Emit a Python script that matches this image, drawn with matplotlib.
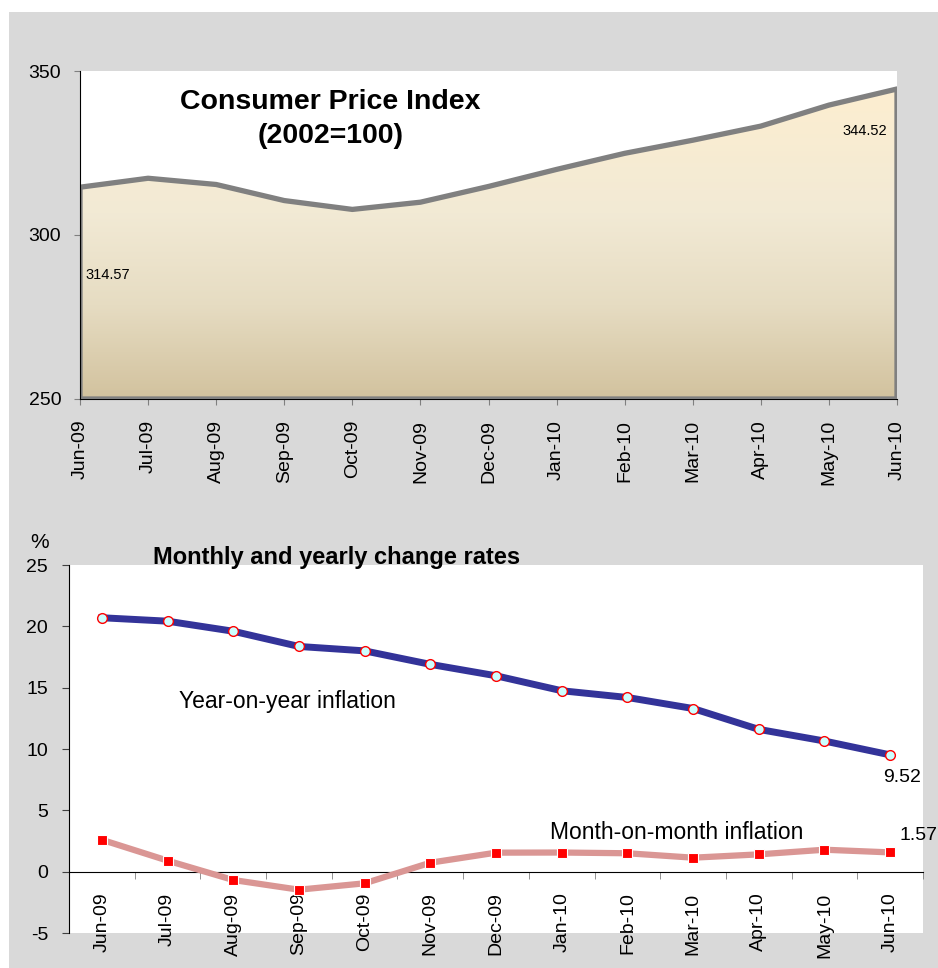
import matplotlib
matplotlib.use("Agg")
import matplotlib.pyplot as plt
import numpy as np
from matplotlib.patches import Polygon, Rectangle
from matplotlib.colors import LinearSegmentedColormap

plt.rcParams['font.family'] = ['Liberation Sans', 'DejaVu Sans']
plt.rcParams['axes.unicode_minus'] = False

months = ['Jun-09', 'Jul-09', 'Aug-09', 'Sep-09', 'Oct-09', 'Nov-09', 'Dec-09',
          'Jan-10', 'Feb-10', 'Mar-10', 'Apr-10', 'May-10', 'Jun-10']
cpi = [314.57, 317.3, 315.4, 310.5, 307.8, 310.0, 314.8,
       320.0, 324.9, 328.9, 333.2, 339.6, 344.52]
yoy = [20.7, 20.42, 19.6, 18.36, 18.0, 16.9, 15.97,
       14.75, 14.2, 13.3, 11.6, 10.65, 9.52]
mom = [2.6, 0.9, -0.68, -1.47, -0.95, 0.73, 1.55,
       1.56, 1.5, 1.14, 1.41, 1.79, 1.57]

W, H = 938, 968
fig = plt.figure(figsize=(W / 100, H / 100), dpi=100, facecolor='white')
fig.patches.append(Rectangle((9 / W, 0), 1, 1 - 12 / H, transform=fig.transFigure,
                             facecolor='#d9d9d9', edgecolor='none', zorder=-10))

x = np.arange(len(months))

# ---- top: consumer price index ----
ax1 = fig.add_axes([80 / W, 1 - 399 / H, (897 - 80) / W, (399 - 71) / H])
ax1.set_facecolor('white')
ax1.set_xlim(0, 12)
ax1.set_ylim(250, 350)

verts = [(0, 250)] + list(zip(x, cpi)) + [(12, 250)]
poly = Polygon(verts, closed=True, facecolor='none', edgecolor='#808080',
               linewidth=3.8, joinstyle='round', zorder=3)
ax1.add_patch(poly)

cmap = LinearSegmentedColormap.from_list(
    'cpi', [(0, '#d2c29e'), (0.3, '#e6dcc2'), (0.6, '#f2ead5'), (1, '#fdeed0')])
grad = np.linspace(0, 1, 256).reshape(-1, 1)
img = ax1.imshow(grad, cmap=cmap, origin='lower', aspect='auto',
                 extent=[0, 12, 250, max(cpi)], zorder=2)
img.set_clip_path(poly)

ax1.text(0.41, cpi[0] - 26.7, '%.2f' % cpi[0], fontsize=10.5, ha='center', va='center', zorder=5)
ax1.text(11.53, cpi[-1] - 12.8, '%.2f' % cpi[-1], fontsize=10.5, ha='center', va='center', zorder=5)
ax1.text(3.68, 340.5, 'Consumer Price Index', fontsize=20.5, fontweight='bold', ha='center', va='center')
ax1.text(3.68, 330.3, '(2002=100)', fontsize=20.5, fontweight='bold', ha='center', va='center')

ax1.set_xticks(x)
ax1.set_xticklabels(months, rotation=90)
ax1.set_yticks([250, 300, 350])
ax1.tick_params(axis='x', length=4, color='#808080', pad=11, labelsize=14)
ax1.tick_params(axis='y', length=4.5, color='#808080', pad=9, labelsize=14)
for s in ['top', 'right']:
    ax1.spines[s].set_visible(False)
ax1.spines['left'].set_color('black')
ax1.spines['bottom'].set_color('black')
ax1.spines['left'].set_zorder(6)

# ---- bottom: change rates ----
ax2 = fig.add_axes([69 / W, 1 - 933 / H, (923 - 69) / W, (933 - 565) / H])
ax2.set_facecolor('white')
ax2.set_xlim(-0.5, 12.5)
ax2.set_ylim(-5, 25)

ax2.plot(x, yoy, color='#333399', linewidth=5, marker='o', markersize=7,
         markerfacecolor='#ccffff', markeredgecolor='red', markeredgewidth=1, zorder=4)
ax2.plot(x, mom, color='#da9694', linewidth=4.5, marker='s', markersize=6.5,
         markerfacecolor='red', markeredgecolor='white', markeredgewidth=0.8, zorder=4)

ax2.text(2.82, 13.9, 'Year-on-year inflation', fontsize=16.5, ha='center', va='center')
ax2.text(8.75, 3.2, 'Month-on-month inflation', fontsize=16.5, ha='center', va='center')
ax2.text(12.18, 7.7, '%.2f' % yoy[-1], fontsize=14, ha='center', va='center')
ax2.text(12.43, 2.95, '%.2f' % mom[-1], fontsize=14, ha='center', va='center')
ax2.text(0.313, 1.02, 'Monthly and yearly change rates', transform=ax2.transAxes,
         fontsize=17, fontweight='bold', ha='center', va='center')
ax2.text(-0.034, 1.06, '%', transform=ax2.transAxes, fontsize=15, ha='center', va='center')

ax2.spines['bottom'].set_position(('data', 0))
for s in ['top', 'right']:
    ax2.spines[s].set_visible(False)
ax2.set_yticks(range(-5, 26, 5))
ax2.set_xticks(x)
ax2.set_xticklabels(months, rotation=90)
ax2.set_xticks(np.arange(-0.5, 13, 1), minor=True)
ax2.tick_params(axis='x', which='major', length=0, pad=15, labelsize=14)
ax2.tick_params(axis='x', which='minor', length=5, color='#808080')
ax2.tick_params(axis='y', length=5, color='#404040', pad=10, labelsize=14)

fig.savefig('out.png', dpi=100, facecolor='white')
